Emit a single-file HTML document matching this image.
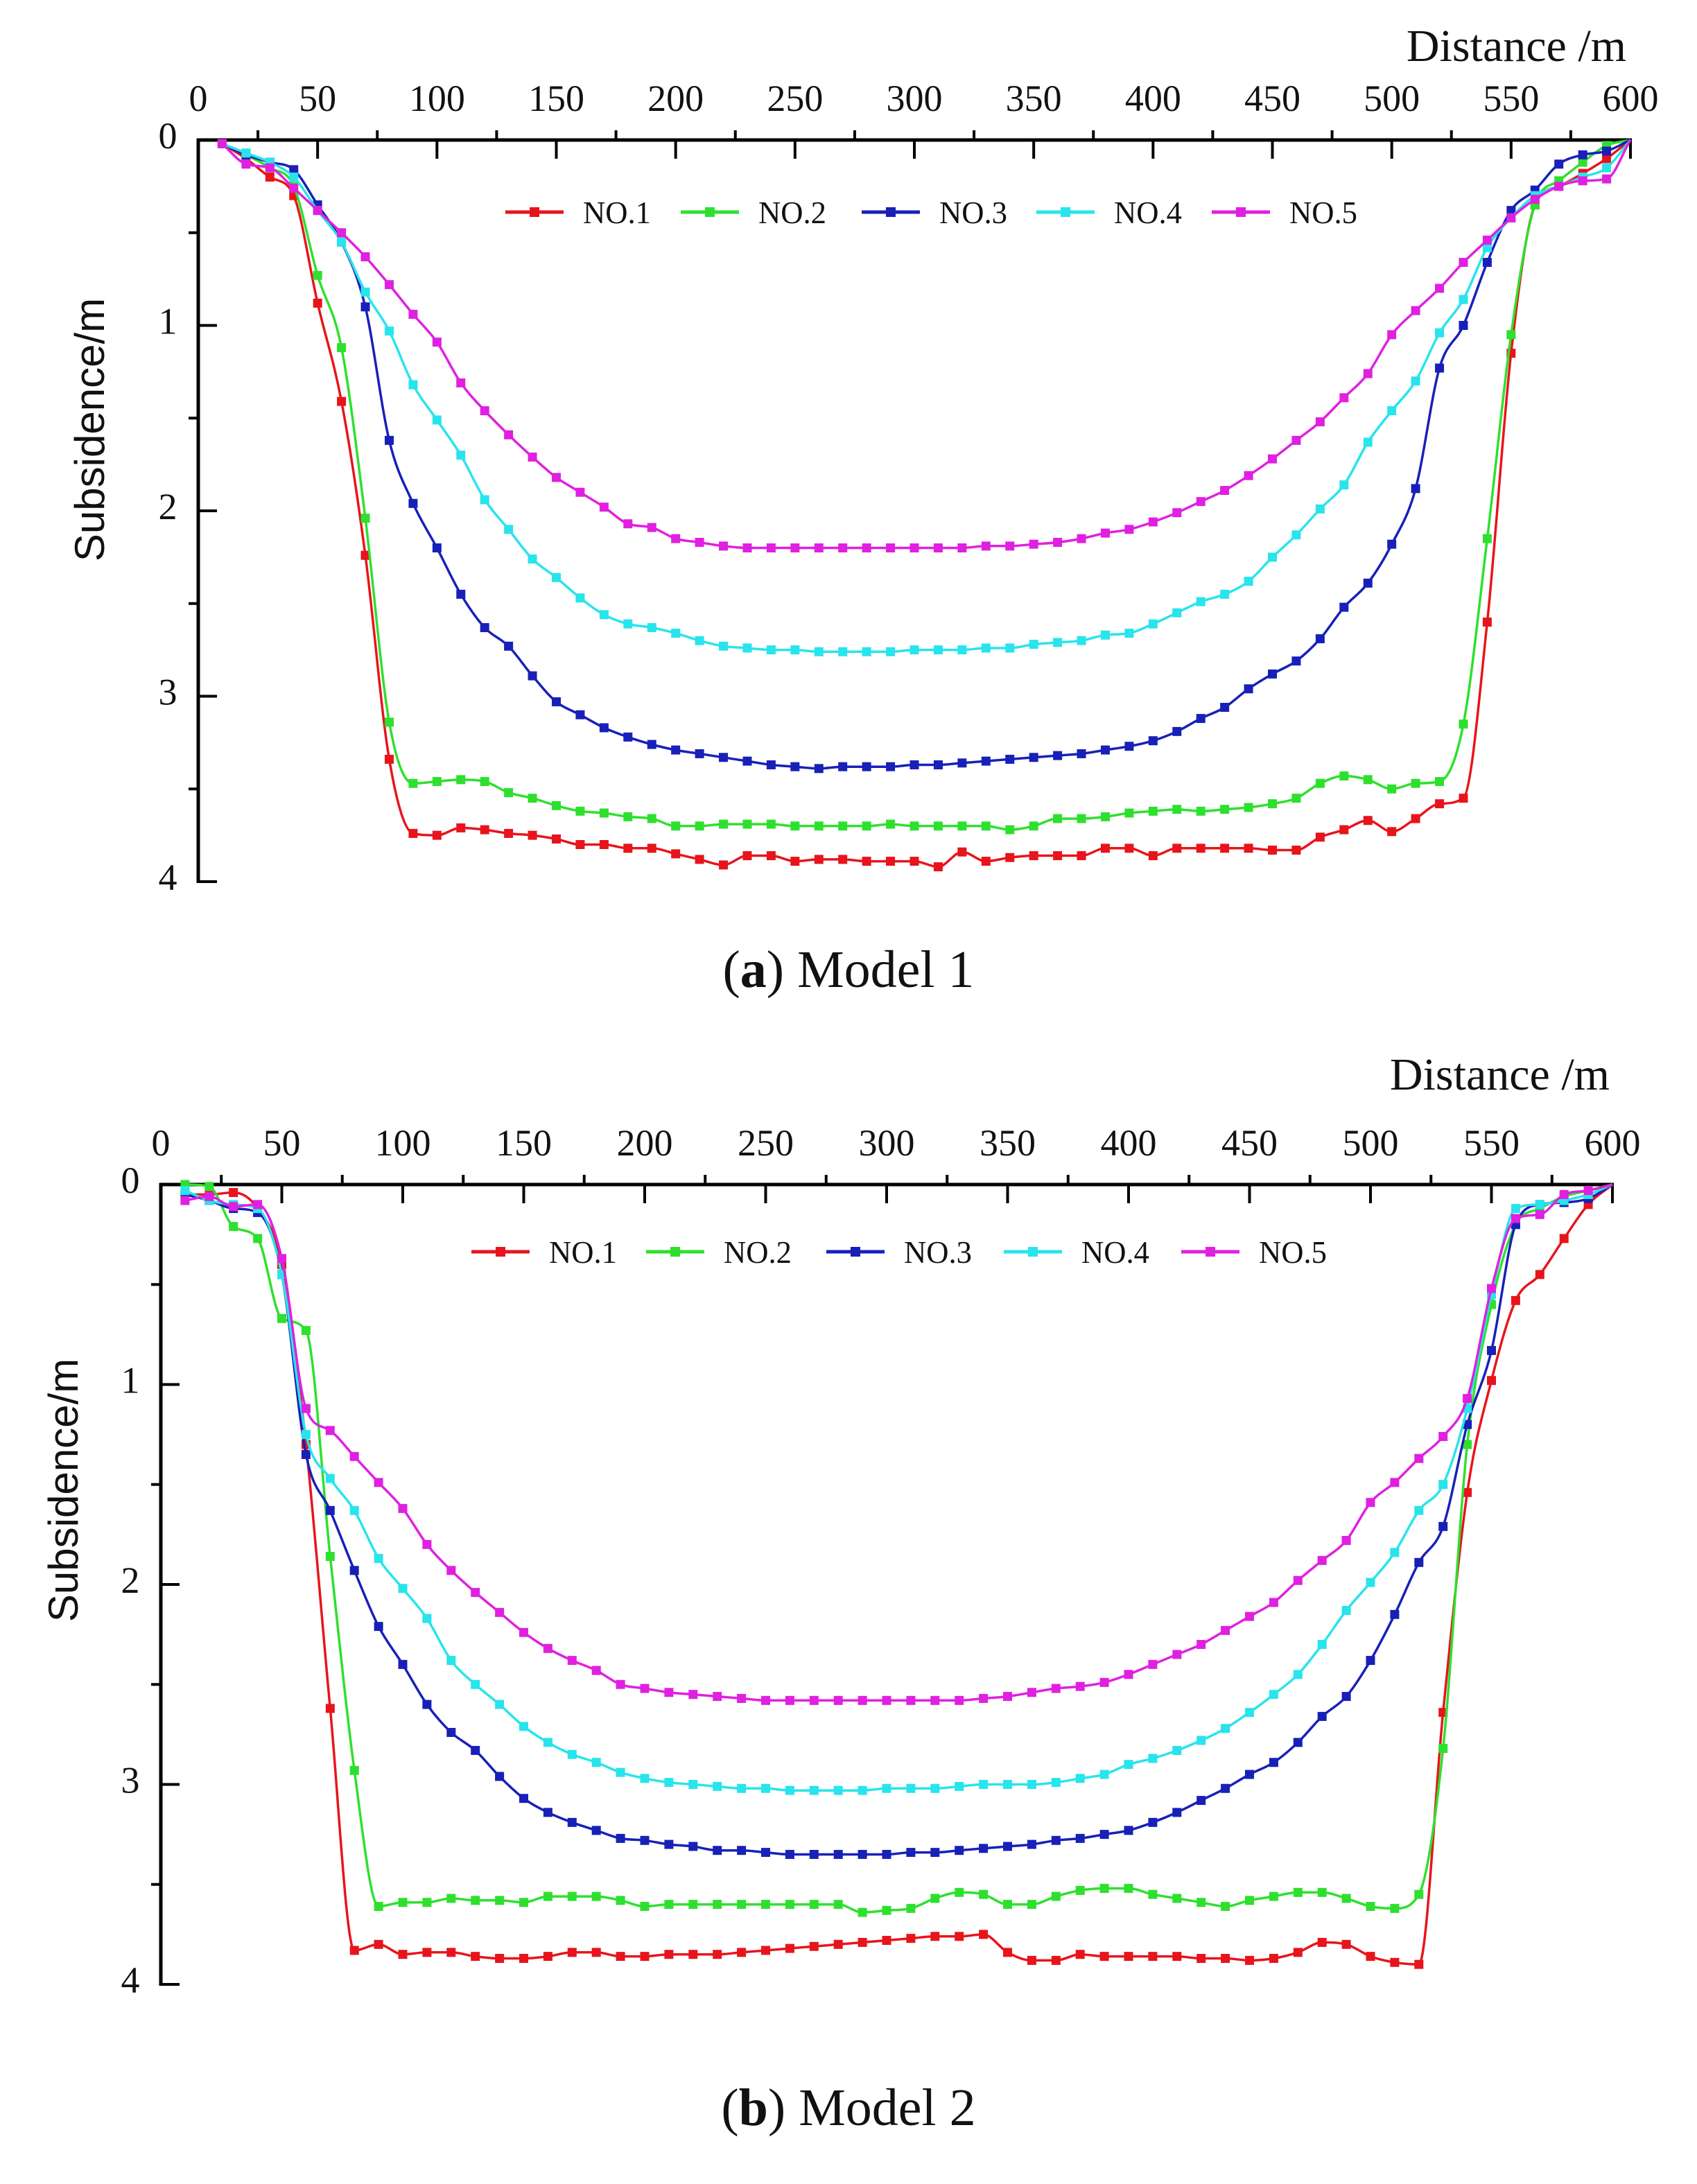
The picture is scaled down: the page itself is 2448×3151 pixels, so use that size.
<!DOCTYPE html>
<html><head><meta charset="utf-8"><title>Subsidence curves</title>
<style>
html,body{margin:0;padding:0;background:#fff;}
svg{display:block;}
text{font-family:"Liberation Serif",serif;fill:#111;}
.sans{font-family:"Liberation Sans",sans-serif;}
</style></head>
<body>
<svg id="chart" width="2448" height="3151" viewBox="0 0 2448 3151" xmlns="http://www.w3.org/2000/svg"></svg>
<script>
// ---------- DATA ----------
const distances = [10,20,30,40,50,60,70,80,90,100,110,120,130,140,150,160,170,180,190,200,210,220,230,240,250,260,270,280,290,300,310,320,330,340,350,360,370,380,390,400,410,420,430,440,450,460,470,480,490,500,510,520,530,540,550,560,570,580,590,600];
const seriesNames = ["NO.1","NO.2","NO.3","NO.4","NO.5"];
const xTicks = [0,50,100,150,200,250,300,350,400,450,500,550,600];
const yTicks = [0,1,2,3,4];

// Model 1
const m1No1 = [0.02,0.1,0.2,0.3,0.88,1.41,2.24,3.34,3.74,3.75,3.71,3.72,3.74,3.75,3.77,3.8,3.8,3.82,3.82,3.85,3.88,3.91,3.86,3.86,3.89,3.88,3.88,3.89,3.89,3.89,3.92,3.84,3.89,3.87,3.86,3.86,3.86,3.82,3.82,3.86,3.82,3.82,3.82,3.82,3.83,3.83,3.76,3.72,3.67,3.73,3.66,3.58,3.55,2.6,1.15,0.35,0.25,0.18,0.1,0];
const m1No2 = [0.02,0.08,0.15,0.25,0.73,1.12,2.04,3.14,3.47,3.46,3.45,3.46,3.52,3.55,3.59,3.62,3.63,3.65,3.66,3.7,3.7,3.69,3.69,3.69,3.7,3.7,3.7,3.7,3.69,3.7,3.7,3.7,3.7,3.72,3.7,3.66,3.66,3.65,3.63,3.62,3.61,3.62,3.61,3.6,3.58,3.55,3.47,3.43,3.45,3.5,3.47,3.46,3.15,2.15,1.05,0.35,0.22,0.12,0.03,0];
const m1No3 = [0.02,0.08,0.12,0.16,0.35,0.55,0.9,1.62,1.96,2.2,2.45,2.63,2.73,2.89,3.03,3.1,3.17,3.22,3.26,3.29,3.31,3.33,3.35,3.37,3.38,3.39,3.38,3.38,3.38,3.37,3.37,3.36,3.35,3.34,3.33,3.32,3.31,3.29,3.27,3.24,3.19,3.12,3.06,2.96,2.88,2.81,2.69,2.52,2.39,2.18,1.88,1.23,1.0,0.66,0.38,0.27,0.13,0.08,0.06,0];
const m1No4 = [0.02,0.07,0.12,0.2,0.38,0.55,0.82,1.03,1.32,1.51,1.7,1.94,2.1,2.26,2.36,2.47,2.56,2.61,2.63,2.66,2.7,2.73,2.74,2.75,2.75,2.76,2.76,2.76,2.76,2.75,2.75,2.75,2.74,2.74,2.72,2.71,2.7,2.67,2.66,2.61,2.55,2.49,2.45,2.38,2.25,2.13,1.99,1.86,1.63,1.46,1.3,1.04,0.86,0.58,0.42,0.3,0.25,0.2,0.15,0];
const m1No5 = [0.02,0.13,0.15,0.26,0.38,0.5,0.63,0.78,0.94,1.09,1.31,1.46,1.59,1.71,1.82,1.9,1.98,2.07,2.09,2.15,2.17,2.19,2.2,2.2,2.2,2.2,2.2,2.2,2.2,2.2,2.2,2.2,2.19,2.19,2.18,2.17,2.15,2.12,2.1,2.06,2.01,1.95,1.89,1.81,1.72,1.62,1.52,1.39,1.26,1.05,0.92,0.8,0.66,0.54,0.42,0.32,0.25,0.22,0.21,0];

// Model 2
const m2No1 = [0.05,0.05,0.04,0.12,0.4,1.3,2.62,3.83,3.8,3.85,3.84,3.84,3.86,3.87,3.87,3.86,3.84,3.84,3.86,3.86,3.85,3.85,3.85,3.84,3.83,3.82,3.81,3.8,3.79,3.78,3.77,3.76,3.76,3.75,3.84,3.88,3.88,3.85,3.86,3.86,3.86,3.86,3.87,3.87,3.88,3.87,3.84,3.79,3.8,3.86,3.89,3.9,2.64,1.54,0.98,0.58,0.45,0.27,0.1,0];
const m2No2 = [0.0,0.01,0.21,0.27,0.67,0.73,1.86,2.93,3.61,3.59,3.59,3.57,3.58,3.58,3.59,3.56,3.56,3.56,3.58,3.61,3.6,3.6,3.6,3.6,3.6,3.6,3.6,3.6,3.64,3.63,3.62,3.57,3.54,3.55,3.6,3.6,3.56,3.53,3.52,3.52,3.55,3.57,3.59,3.61,3.58,3.56,3.54,3.54,3.57,3.61,3.62,3.55,2.82,1.3,0.6,0.2,0.12,0.06,0.03,0];
const m2No3 = [0.05,0.08,0.12,0.14,0.45,1.35,1.63,1.93,2.21,2.4,2.6,2.74,2.83,2.96,3.07,3.14,3.19,3.23,3.27,3.28,3.3,3.31,3.33,3.33,3.34,3.35,3.35,3.35,3.35,3.35,3.34,3.34,3.33,3.32,3.31,3.3,3.28,3.27,3.25,3.23,3.19,3.14,3.08,3.02,2.95,2.89,2.79,2.66,2.56,2.38,2.15,1.89,1.71,1.2,0.83,0.2,0.1,0.09,0.07,0];
const m2No4 = [0.03,0.08,0.1,0.12,0.45,1.25,1.47,1.63,1.87,2.02,2.17,2.38,2.5,2.6,2.71,2.79,2.85,2.89,2.94,2.97,2.99,3.0,3.01,3.02,3.02,3.03,3.03,3.03,3.03,3.02,3.02,3.02,3.01,3.0,3.0,3.0,2.99,2.97,2.95,2.9,2.87,2.83,2.78,2.72,2.64,2.55,2.45,2.3,2.13,1.99,1.84,1.63,1.5,1.12,0.55,0.12,0.1,0.08,0.05,0];
const m2No5 = [0.08,0.06,0.11,0.1,0.37,1.12,1.23,1.36,1.49,1.62,1.8,1.93,2.04,2.14,2.24,2.32,2.38,2.43,2.5,2.52,2.54,2.55,2.56,2.57,2.58,2.58,2.58,2.58,2.58,2.58,2.58,2.58,2.58,2.57,2.56,2.54,2.52,2.51,2.49,2.45,2.4,2.35,2.3,2.23,2.16,2.09,1.98,1.88,1.78,1.59,1.49,1.37,1.26,1.07,0.52,0.17,0.15,0.05,0.03,0];

const seriesColors = ["#e8141c","#2ee02e","#1820b8","#28e4ec","#e020e0"];
const SVGNS = "http://www.w3.org/2000/svg";
const svg = document.getElementById('chart');

function mk(tag, attrs, parent){
  const e = document.createElementNS(SVGNS, tag);
  for (const k in attrs) e.setAttribute(k, attrs[k]);
  (parent||svg).appendChild(e);
  return e;
}

// monotone cubic (Fritsch-Carlson) in screen coords
function smoothPath(pts){
  const n = pts.length;
  const dx = [], sl = [];
  for (let i=0;i<n-1;i++){ dx[i]=pts[i+1][0]-pts[i][0]; sl[i]=(pts[i+1][1]-pts[i][1])/dx[i]; }
  const m = new Array(n);
  m[0]=sl[0]; m[n-1]=sl[n-2];
  for (let i=1;i<n-1;i++){
    if (sl[i-1]*sl[i] <= 0) m[i]=0;
    else m[i] = (sl[i-1]+sl[i])/2;
  }
  for (let i=0;i<n-1;i++){
    if (sl[i]===0){ m[i]=0; m[i+1]=0; continue; }
    const a=m[i]/sl[i], b=m[i+1]/sl[i], s=a*a+b*b;
    if (s>9){ const t=3/Math.sqrt(s); m[i]=t*a*sl[i]; m[i+1]=t*b*sl[i]; }
  }
  let d = "M" + pts[0][0].toFixed(1) + "," + pts[0][1].toFixed(1);
  for (let i=0;i<n-1;i++){
    const h = dx[i]/3;
    d += " C" + (pts[i][0]+h).toFixed(1)+","+(pts[i][1]+m[i]*h).toFixed(1)+" "+(pts[i+1][0]-h).toFixed(1)+","+(pts[i+1][1]-m[i+1]*h).toFixed(1)+" "+pts[i+1][0].toFixed(1)+","+pts[i+1][1].toFixed(1);
  }
  return d;
}

function drawChart(cfg, seriesList, prefix){
  const g = mk('g', {});
  
  
  const xs = v => cfg.x0 + (v/600)*(cfg.x1-cfg.x0);
  const ys = v => cfg.y0 + (v/4)*(cfg.y1-cfg.y0);

  const xAxis = mk('line', {x1:cfg.x0-2, y1:cfg.y0, x2:cfg.x1+2, y2:cfg.y0, stroke:'#000','stroke-width':5}, g);
  
  
  const yAxis = mk('line', {x1:cfg.x0, y1:cfg.y0-2, x2:cfg.x0, y2:cfg.y1+2, stroke:'#000','stroke-width':5}, g);
  
  

  xTicks.forEach(t => {
    const x = xs(t);
    mk('line', {x1:x, y1:cfg.y0, x2:x, y2:cfg.y0+27, stroke:'#000','stroke-width':4}, g);
    const lab = mk('text', {x:x, y:cfg.y0-42, 'font-size':54, 'text-anchor':'middle'}, g);
    
    
    lab.textContent = t;
  });
  for (let t=25;t<600;t+=50){
    const x = xs(t);
    mk('line', {x1:x, y1:cfg.y0, x2:x, y2:cfg.y0-14, stroke:'#000','stroke-width':4}, g);
  }
  yTicks.forEach(t => {
    const y = ys(t);
    mk('line', {x1:cfg.x0, y1:y, x2:cfg.x0+27, y2:y, stroke:'#000','stroke-width':4}, g);
    const lab = mk('text', {x:cfg.x0-44, y:y+12, 'font-size':54, 'text-anchor':'middle'}, g);
    
    
    lab.textContent = t;
  });
  for (let t=0.5;t<4;t+=1){
    const y = ys(t);
    mk('line', {x1:cfg.x0, y1:y, x2:cfg.x0-14, y2:y, stroke:'#000','stroke-width':4}, g);
  }
  const xt = mk('text', {x:cfg.xtX, y:cfg.xtY, 'font-size':66, 'text-anchor':'end'}, g);
  
  
  xt.setAttribute('xml:space','preserve');
  xt.textContent = 'Distance  /m';
  const yt = mk('text', {x:0, y:0, 'font-size':60, 'text-anchor':'middle', class:'sans', transform:'translate('+cfg.ytX+','+cfg.ytY+') rotate(-90)'}, g);
  
  
  yt.textContent = 'Subsidence/m';

  seriesList.forEach((vals, si) => {
    const sg = mk('g', {}, g);
    
    
    const pts = distances.map((d,i) => [xs(d), ys(vals[i])]);
    mk('path', {d:smoothPath(pts), fill:'none', stroke:seriesColors[si], 'stroke-width':3.5}, sg);
    pts.forEach((p,i) => {
      if (distances[i] >= 600) return;
      const m = mk('rect', {x:p[0]-6.5, y:p[1]-6.5, width:13, height:13, fill:seriesColors[si]}, sg);
      
      
    });
  });

  const lg = mk('g', {}, g);
  
  
  seriesNames.forEach((n, si) => {
    const lx = cfg.legX[si];
    const eg = mk('g', {}, lg);
    
    
    mk('line', {x1:lx, y1:cfg.legY, x2:lx+84, y2:cfg.legY, stroke:seriesColors[si], 'stroke-width':5}, eg);
    mk('rect', {x:lx+35, y:cfg.legY-7, width:14, height:14, fill:seriesColors[si]}, eg);
    const t = mk('text', {x:lx+112, y:cfg.legY+16, 'font-size':46, textLength:98, lengthAdjust:'spacingAndGlyphs'}, eg);
    t.textContent = n;
  });

  const cap = mk('text', {x:1224, y:cfg.capY, 'font-size':76, 'text-anchor':'middle'}, g);
  
  
  cap.innerHTML = '(<tspan font-weight="bold">' + cfg.capLetter + '</tspan>) ' + cfg.capText;
}

drawChart({x0:286, x1:2352, y0:202, y1:1272, xtX:2346, xtY:88, ytX:150, ytY:620,
  legX:[729,982,1243,1495,1748], legY:306, capY:1424, capLetter:'a', capText:'Model 1'},
  [m1No1,m1No2,m1No3,m1No4,m1No5], 'model1');

drawChart({x0:232, x1:2326, y0:1709, y1:2863, xtX:2322, xtY:1572, ytX:112, ytY:2150,
  legX:[680,932,1192,1448,1704], legY:1806, capY:3066, capLetter:'b', capText:'Model 2'},
  [m2No1,m2No2,m2No3,m2No4,m2No5], 'model2');
</script>
</body></html>
